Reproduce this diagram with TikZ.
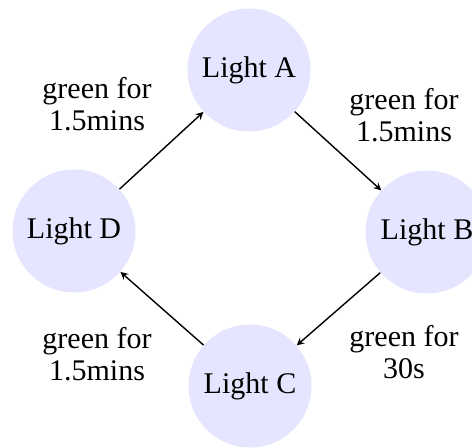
\documentclass[tikz,border=0pt]{standalone}
\usepackage{fontspec}
\setmainfont{Liberation Serif}
\usetikzlibrary{arrows}

\begin{document}
\begin{tikzpicture}[x=0.5pt, y=0.5pt, font=\fontsize{15}{16}\selectfont,
    light/.style={circle, fill=blue!10, minimum size=61.5pt, inner sep=0pt},
    note/.style={align=center}]
    \useasboundingbox (0, 0) rectangle (472, 447);
    \node[light] (a) at (249, 377) {Light A};
    \node[light] (b) at (427, 215) {Light B};
    \node[light] (c) at (250, 61) {Light C};
    \node[light] (d) at (74, 216) {Light D};
    \node[note] (da) at (97, 343) {green for\\1.5mins};
    \node[note] (ab) at (404, 332) {green for\\1.5mins};
    \node[note] (cd) at (97, 93) {green for\\1.5mins};
    \node[note] (bc) at (404, 95) {green for\\30s};
    \draw [-stealth, line width=0.7pt] (d) to (a);
    \draw [-stealth, line width=0.7pt] (a) to (b);
    \draw [-stealth, line width=0.7pt] (b) to (c);
    \draw [-stealth, line width=0.7pt] (c) to (d);
  \end{tikzpicture}
\end{document}
